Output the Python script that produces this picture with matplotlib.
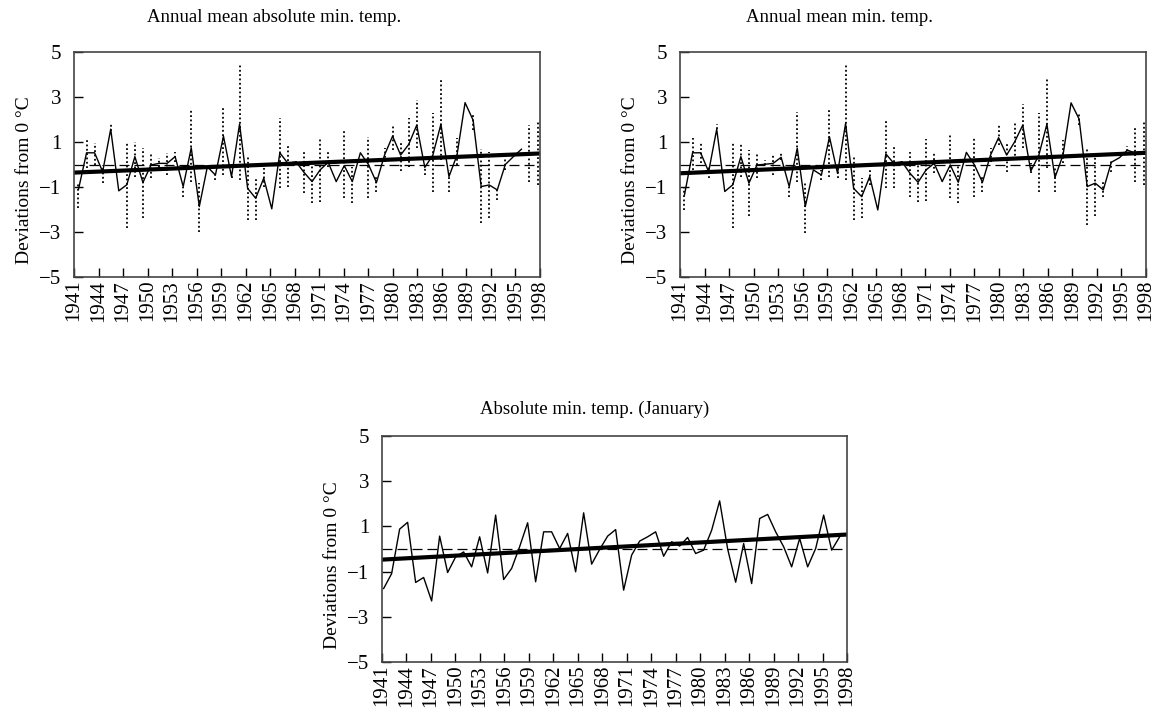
import numpy as np
import matplotlib
matplotlib.use("Agg")
import matplotlib.pyplot as plt

plt.rcParams["font.family"] = ["Liberation Serif", "DejaVu Serif"]

nan = np.nan

years = np.arange(1941, 1999)
tick_years = np.arange(1941, 1999, 3)

# annual mean absolute minimum temperature (solid) and spread (dotted)
abs_min = [-1.1, 0.52, 0.52, -0.32, 1.57, -1.17, -0.9, 0.35, -0.8, -0.02,
           0.05, 0.05, 0.35, -0.98, 0.74, -1.87, -0.1, -0.47, 1.26, -0.54,
           1.8, -1.06, -1.5, -0.61, -1.97, 0.52, 0.05, 0.12, -0.35, -0.76,
           -0.24, 0.1, -0.76, -0.05, -0.76, 0.52, 0.0, -0.8, 0.42, 1.26,
           0.42, 0.89, 1.75, -0.13, 0.42, 1.79, -0.54, 0.42, 2.75, 1.97,
           -0.98, -0.91, -1.13, 0.0, 0.35, 0.68, nan, nan]
abs_min_lo = [-1.94, -0.17, -0.02, -0.83, 1.5, nan, -2.83, -0.54, -2.38, -0.61,
              -0.1, -0.47, 0.13, -1.43, -0.76, -2.98, nan, -0.7, -0.47, -0.6,
              -0.69, -2.46, -2.46, -0.98, nan, -1.06, -0.98, 0.05, -1.28, -1.72,
              -1.65, -0.1, nan, -1.47, -1.72, nan, -1.47, -1.2, 0.13, 0.64,
              -0.29, -0.1, 0.72, -0.45, -1.2, 0.2, -1.2, -0.02, nan, 1.53,
              -2.6, -2.36, -1.57, -0.24, nan, nan, -0.76, -0.91]
abs_min_hi = [-0.83, 1.16, 0.94, -0.02, 1.8, nan, 0.94, 1.0, 0.72, 0.5,
              0.27, 0.5, 0.57, -0.98, 2.41, -0.83, nan, -0.45, 2.49, -0.4,
              4.48, 0.42, -0.61, -0.17, nan, 2.05, 0.86, 0.2, 0.54, -0.02,
              1.23, 0.64, nan, 1.48, -0.1, nan, 1.23, -0.54, 0.72, 1.8,
              0.98, 2.05, 2.86, -0.02, 2.27, 3.86, -0.24, 1.16, nan, 2.27,
              0.69, 0.54, -1.13, 0.27, nan, nan, 1.75, 1.97]

# annual mean minimum temperature
mean_min = [-1.35, 0.52, 0.52, -0.32, 1.57, -1.2, -0.9, 0.35, -0.83, -0.02,
            0.01, 0.05, 0.32, -0.98, 0.72, -1.87, -0.24, -0.47, 1.23, -0.39,
            1.82, -1.06, -1.43, -0.54, -2.02, 0.47, 0.05, 0.12, -0.39, -0.79,
            -0.24, 0.05, -0.76, -0.02, -0.79, 0.54, -0.02, -0.79, 0.42, 1.19,
            0.42, 1.01, 1.75, -0.29, 0.42, 1.79, -0.58, 0.42, 2.74, 2.02,
            -0.98, -0.83, -1.13, 0.1, 0.3, 0.64, 0.5, nan]
mean_min_lo = [-2.02, -0.24, 0.05, -0.61, 1.6, nan, -2.83, -0.54, -2.31, -0.61,
               -0.02, -0.47, 0.2, -1.43, -0.76, -3.05, nan, -0.69, -0.54, -0.61,
               -0.69, -2.46, -2.38, -0.91, nan, -1.06, -1.06, 0.05, -1.43, -1.65,
               -1.62, -0.39, nan, -1.47, -1.72, nan, -1.43, -1.2, 0.13, 0.86,
               -0.35, 0.2, 0.72, -0.39, -1.2, -0.17, -1.2, 0.05, nan, 1.75,
               -2.68, -2.31, -1.43, -0.32, nan, 0.6, -0.76, -0.91]
mean_min_hi = [-0.98, 1.2, 0.94, -0.1, 1.82, nan, 0.94, 0.94, 0.64, 0.47,
               0.2, 0.47, 0.57, -0.98, 2.34, -0.83, nan, -0.24, 2.49, -0.02,
               4.41, 0.35, -0.61, -0.24, nan, 1.97, 0.82, 0.2, 0.54, -0.02,
               1.13, 0.57, nan, 1.38, -0.05, nan, 1.23, -0.54, 0.72, 1.75,
               0.89, 1.93, 2.71, 0.05, 2.27, 3.85, -0.02, 1.08, nan, 2.27,
               0.72, 0.54, -0.76, 0.2, nan, 0.83, 1.68, 1.97]

# absolute minimum temperature in January
jan_min = [-1.75, -1.09, 0.88, 1.18, -1.48, -1.26, -2.3, 0.57, -1.04, -0.35,
           -0.13, -0.79, 0.54, -1.06, 1.5, -1.35, -0.86, 0.1, 1.16, -1.45,
           0.76, 0.76, 0.02, 0.69, -1.01, 1.6, -0.67, -0.02, 0.57, 0.86,
           -1.82, -0.27, 0.35, 0.54, 0.76, -0.32, 0.32, 0.13, 0.51, -0.2,
           -0.05, 0.83, 2.13, 0.0, -1.47, 0.24, -1.53, 1.35, 1.53, 0.76,
           0.1, -0.79, 0.47, -0.79, 0.02, 1.5, -0.05, 0.54]

# linear trend at the first and last year
trend_abs_min = [-0.36, 0.49]
trend_mean_min = [-0.39, 0.52]
trend_jan = [-0.47, 0.64]

W, H = 1156, 713


def panel(box, x, values, trend, title, title_xy, lo=None, hi=None):

    left, top, right, bottom = box

    ax = fig.add_axes([left / W, 1 - bottom / H, (right - left) / W, (bottom - top) / H])

    if lo is not None:
        lo = np.array(lo)
        hi = np.array(hi)
        ok = ~np.isnan(lo)
        ax.vlines(x[ok], lo[ok], hi[ok], colors="black",
                  linestyles=(0, (1, 1.4)), linewidth=1.3)

    ax.plot(x, values, color="black", linewidth=1.0)
    ax.axhline(0, color="black", linewidth=0.9, dashes=(8, 4))
    ax.plot([1941, 1998], trend, color="black", linewidth=3)

    ax.set_xlim(1941, 1998)
    ax.set_ylim(-5, 5)
    ax.set_yticks([-5, -3, -1, 1, 3, 5])
    ax.set_xticks(tick_years)
    ax.set_xticklabels([str(y) for y in tick_years], rotation=90)
    ax.tick_params(direction="in", length=6.5, width=1, labelsize=15,
                   top=False, right=False)
    ax.tick_params(axis="y", pad=9)
    ax.tick_params(axis="x", pad=2)
    for s in ax.spines.values():
        s.set_color("#444444")
        s.set_linewidth(1.2)
    ax.set_ylabel("Deviations from 0 °C", fontsize=14)
    ax.yaxis.set_label_coords(-0.088, 0.43)

    fig.text(title_xy[0] / W, 1 - title_xy[1] / H, title, fontsize=13.5,
             ha="center", va="center")
    return ax


fig = plt.figure(figsize=(W / 100, H / 100), dpi=100)

x_top = np.linspace(1941.55, 1997.7, len(years))
x_bottom = np.linspace(1941.2, 1997.1, len(years))

panel((74, 52, 540, 277), x_top, abs_min, trend_abs_min,
      "Annual mean absolute min. temp.", (274, 17), abs_min_lo, abs_min_hi)

panel((680, 52, 1146, 277), x_top, mean_min, trend_mean_min,
      "Annual mean min. temp.", (840, 17), mean_min_lo, mean_min_hi)

panel((382, 436, 847, 662), x_bottom, jan_min, trend_jan,
      "Absolute min. temp. (January)", (595, 409))

plt.savefig("out.png", dpi=100)
plt.close()
